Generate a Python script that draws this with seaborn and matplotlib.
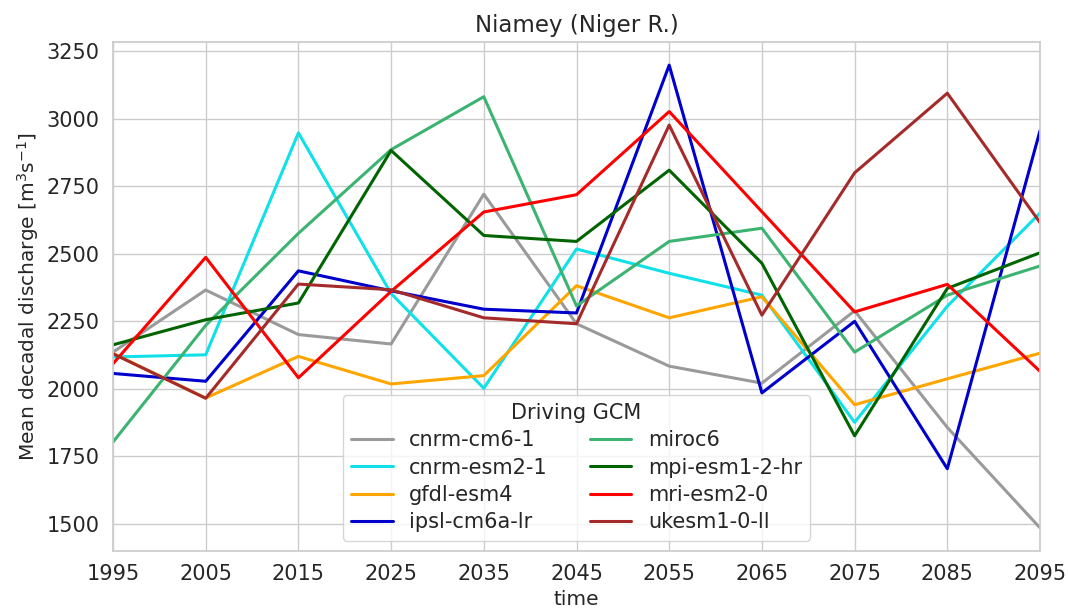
import matplotlib
matplotlib.use("Agg")
import matplotlib.pyplot as plt
import seaborn as sns
import pandas as pd

years = [1995, 2005, 2015, 2025, 2035, 2045, 2055, 2065, 2075, 2085, 2095]

cnrm_cm6_1 = [2135, 2365, 2200, 2165, 2720, 2240, 2083, 2020, 2288, 1856, 1484]
cnrm_esm2_1 = [2117, 2125, 2947, 2352, 2001, 2517, 2427, 2346, 1875, 2305, 2650]
gfdl_esm4 = [2130, 1965, 2119, 2017, 2048, 2381, 2262, 2340, 1940, 2036, 2131]
ipsl_cm6a_lr = [2056, 2027, 2436, 2362, 2294, 2280, 3198, 1984, 2249, 1703, 2955]
miroc6 = [1802, 2234, 2575, 2885, 3081, 2306, 2545, 2594, 2135, 2346, 2454]
mpi_esm1_2_hr = [2162, 2255, 2317, 2882, 2567, 2545, 2809, 2464, 1825, 2371, 2503]
mri_esm2_0 = [2092, 2486, 2040, 2360, 2654, 2718, 3026, 2655, 2284, 2386, 2064]
ukesm1_0_ll = [2129, 1964, 2387, 2366, 2262, 2240, 2976, 2272, 2799, 3094, 2615]

models = ["cnrm-cm6-1", "cnrm-esm2-1", "gfdl-esm4", "ipsl-cm6a-lr",
          "miroc6", "mpi-esm1-2-hr", "mri-esm2-0", "ukesm1-0-ll"]
series = [cnrm_cm6_1, cnrm_esm2_1, gfdl_esm4, ipsl_cm6a_lr,
          miroc6, mpi_esm1_2_hr, mri_esm2_0, ukesm1_0_ll]
colors = ["#9a9a9a", "#10e0e8", "orange", "mediumblue",
          "mediumseagreen", "darkgreen", "red", "brown"]

df = pd.DataFrame({
    "time": years * len(models),
    "discharge": [v for s in series for v in s],
    "Driving GCM": [m for m in models for _ in years],
})

sns.set_theme(style="whitegrid")
plt.rcParams["font.family"] = ["DejaVu Sans"]
plt.rcParams["font.size"] = 15

fig = plt.figure(figsize=(10.68, 6.09), dpi=100)
ax = fig.add_axes([113 / 1068, 1 - 551 / 609, 927 / 1068, 509 / 609])

sns.lineplot(data=df, x="time", y="discharge", hue="Driving GCM",
             hue_order=models, palette=dict(zip(models, colors)),
             linewidth=2.2, ax=ax)

ax.set_xlim(1995, 2095)
ax.set_xticks(years)
ax.set_yticks([1500, 1750, 2000, 2250, 2500, 2750, 3000, 3250])
ax.tick_params(labelsize=15, colors=".15")
ax.set_xlabel("time", fontsize=14.5, color=".15", labelpad=4)
ax.set_ylabel("Mean decadal discharge [m$^3$s$^{-1}$]", fontsize=14.5, color=".15")
ax.set_title("Niamey (Niger R.)", fontsize=16.5, color=".15", pad=7)

handles, labels = ax.get_legend_handles_labels()
ax.legend(handles, labels, title="Driving GCM", ncol=2, loc="lower center",
          bbox_to_anchor=(0.5, 0.0), fontsize=15, title_fontsize=15,
          columnspacing=2.0, handlelength=2.0, labelspacing=0.35,
          frameon=True, framealpha=0.8, borderaxespad=0.5)

fig.savefig("out.png", dpi=100)
